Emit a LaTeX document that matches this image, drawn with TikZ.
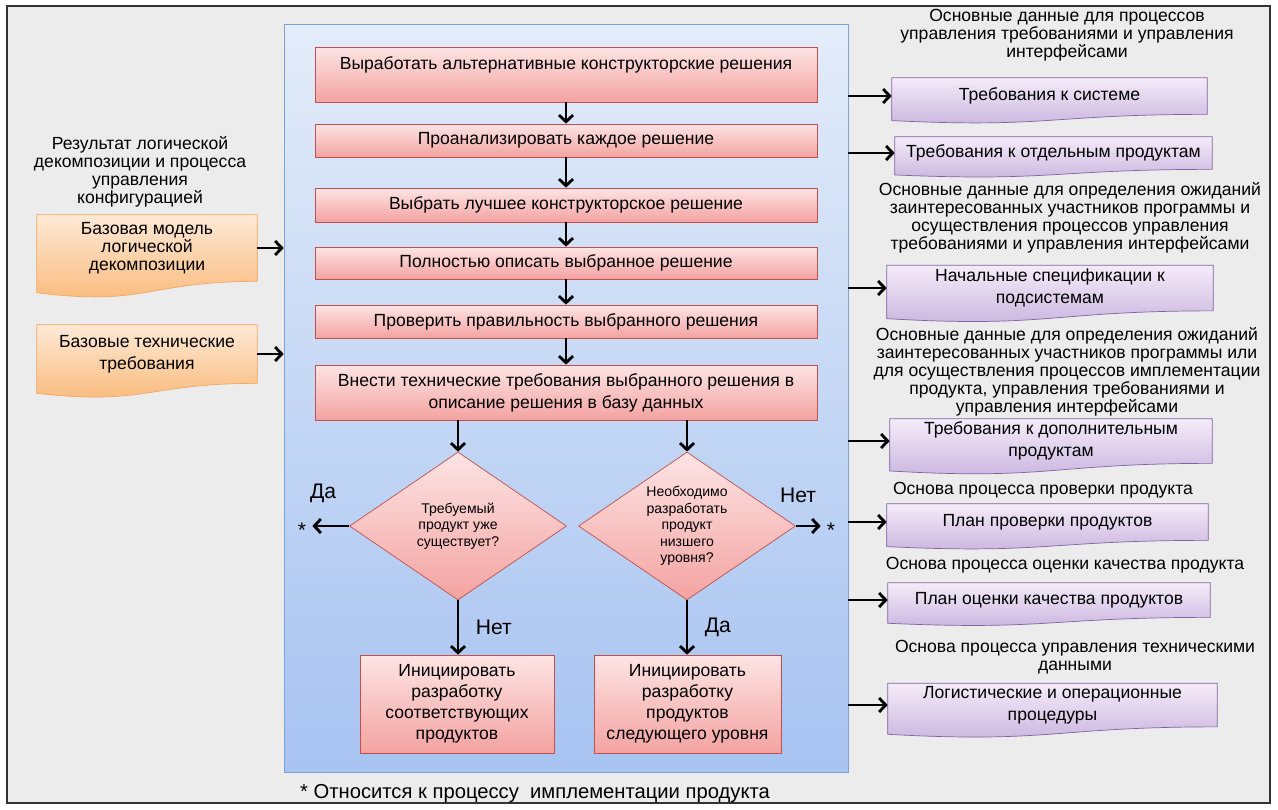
\documentclass[tikz,border=0pt]{standalone}
\usepackage{fontspec}
\setmainfont{Liberation Sans}
\usetikzlibrary{arrows.meta,calc,shapes.geometric}

\definecolor{redline}{HTML}{C0504D}
\definecolor{redtop}{HTML}{FDE4E4}
\definecolor{redbot}{HTML}{F3A3A1}
\definecolor{orgline}{HTML}{F2A766}
\definecolor{orgtop}{HTML}{FEE9D6}
\definecolor{orgbot}{HTML}{F9B877}
\definecolor{violine}{HTML}{8064A2}
\definecolor{viotop}{HTML}{F4ECF9}
\definecolor{viobot}{HTML}{C9B3DE}
\definecolor{bluline}{HTML}{7EA2D6}
\definecolor{blutop}{HTML}{E3ECF9}
\definecolor{blubot}{HTML}{A7C3F1}
\definecolor{paper}{HTML}{ECECEC}

\pgfdeclarelayer{back}
\pgfdeclarelayer{mid}
\pgfsetlayers{back,mid,main}

% wavy document outline under a named node
\newcommand\docpath[2]{%
  \begin{pgfonlayer}{mid}
  \path[#2] (#1.north west) -- (#1.north east) -- (#1.south east)
    .. controls (#1.south) and ($(#1.south)!-0.38!(#1.north)$)
    .. ($(#1.south west)!-0.17!(#1.north west)$) -- cycle;
  \end{pgfonlayer}}

\begin{document}
\begin{tikzpicture}[x=0.02cm,y=-0.02cm,
  every node/.style={font=\fontsize{10}{10.2}\selectfont, align=center},
  redbox/.style={draw=redline, top color=redtop, bottom color=redbot, inner sep=2pt},
  stepbox/.style={redbox, minimum width=10.04cm},
  ask/.style={diamond, aspect=1.47, draw=redline, top color=redtop, bottom color=redbot,
    minimum width=4.34cm, minimum height=2.96cm, inner sep=0pt,
    font=\fontsize{8}{9.4}\selectfont},
  orgdoc/.style={draw=orgline, top color=orgtop, bottom color=orgbot},
  viodoc/.style={draw=violine, top color=viotop, bottom color=viobot},
  yn/.style={font=\fontsize{12}{12}\selectfont},
  arr/.style={line width=1.6pt, -{Straight Barb[length=3.8pt,width=8pt]}}]

\useasboundingbox (0,0) rectangle (1278,809);
\begin{pgfonlayer}{back}
\fill[white] (0,0) rectangle (1278,809);
\filldraw[fill=paper, draw=black!80, line width=1.2pt] (7,6) rectangle (1270,803);
\end{pgfonlayer}

\node[draw=bluline, top color=blutop, bottom color=blubot, minimum width=11.28cm,
  minimum height=14.96cm, inner sep=0pt] (panel) at (566,398) {};

% main chain
\node[stepbox, minimum height=1.1cm, text depth=0.45cm] (s1) at (566,74.5) {Выработать альтернативные конструкторские решения};
\node[stepbox, minimum height=0.66cm] (s2) at (566,140.5) {Проанализировать каждое решение};
\node[stepbox, minimum height=0.68cm] (s3) at (566,205) {Выбрать лучшее конструкторское решение};
\node[stepbox, minimum height=0.64cm] (s4) at (566,263) {Полностью описать выбранное решение};
\node[stepbox, minimum height=0.66cm] (s5) at (566,321.5) {Проверить правильность выбранного решения};
\node[stepbox, minimum height=1.1cm, font=\fontsize{10}{12.5}\selectfont] (s6) at (566,392.5) {Внести технические требования выбранного решения в\\описание решения в базу данных};
\foreach \a/\b in {s1/s2,s2/s3,s3/s4,s4/s5,s5/s6}
  \draw[arr] (\a) -- (\b);

\node[ask] (d1) at (458,526) {Требуемый\\продукт уже\\существует?};
\node[ask] (d2) at (687,526) {Необходимо\\разработать\\продукт\\низшего\\уровня?};
\draw[arr] (s6.south -| d1.north) -- (d1.north);
\draw[arr] (s6.south -| d2.north) -- (d2.north);

\node[yn] (starL) at (302,530) {*};
\node[yn] (starR) at (831,530) {*};
\node[yn] (yesL) at (323,493) {Да};
\node[yn] (noR) at (798,495) {Нет};
\draw[arr] (d1.west) -- (d1.west -| starL.east);
\draw[arr] (d2.east) -- (d2.east -| starR.west);

\node[redbox, minimum width=3.88cm, minimum height=1.96cm, font=\fontsize{10}{12}\selectfont] (b1) at (457,704) {Инициировать\\разработку\\соответствующих\\продуктов};
\node[redbox, minimum width=3.74cm, minimum height=1.96cm, font=\fontsize{10}{12}\selectfont] (b2) at (687.5,704) {Инициировать\\разработку\\продуктов\\следующего уровня};
\draw[arr] (d1.south) -- node[yn, right=6pt] {Нет} (d1.south |- b1.north);
\draw[arr] (d2.south) -- node[yn, right=6pt] {Да} (d2.south |- b2.north);

\node[font=\fontsize{11.5}{12}\selectfont] (foot) at (535,794) {* Относится к процессу\ \ имплементации продукта};

% inputs
\node (lres) at (140,172) {Результат логической\\декомпозиции и процесса\\управления\\конфигурацией};
\node[minimum width=4.4cm, minimum height=1.32cm, inner sep=0pt] (o1) at (147,248) {Базовая модель\\логической\\декомпозиции};
\node[minimum width=4.4cm, minimum height=1.16cm, inner sep=0pt, font=\fontsize{10}{12.5}\selectfont] (o2) at (147,354) {Базовые технические\\требования};
\docpath{o1}{orgdoc}
\docpath{o2}{orgdoc}
\draw[arr] (o1.east) -- (o1.east -| panel.west);
\draw[arr] (o2.east) -- (o2.east -| panel.west);

% outputs
\node (t1) at (1067,35) {Основные данные для процессов\\управления требованиями и управления\\интерфейсами};
\node (t2) at (1070,217.5) {Основные данные для определения ожиданий\\заинтересованных участников программы и\\осуществления процессов управления\\требованиями и управления интерфейсами};
\node (t3) at (1067,372) {Основные данные для определения ожиданий\\заинтересованных участников программы или\\для осуществления процессов имплементации\\продукта, управления требованиями и\\управления интерфейсами};
\node (t4) at (1043,490) {Основа процесса проверки продукта};
\node (t5) at (1065,565) {Основа процесса оценки качества продукта};
\node (t6) at (1075,657) {Основа процесса управления техническими\\данными};

\node[minimum width=6.3cm, minimum height=0.72cm, inner sep=0pt] (p1) at (1049.5,96) {Требования к системе};
\node[minimum width=6.34cm, minimum height=0.64cm, inner sep=0pt] (p2) at (1053.5,153) {Требования к отдельным продуктам};
\node[minimum width=6.52cm, minimum height=0.9cm, inner sep=0pt, font=\fontsize{10}{12.5}\selectfont] (p3) at (1050,288) {Начальные спецификации к\\подсистемам};
\node[minimum width=6.44cm, minimum height=0.88cm, inner sep=0pt, font=\fontsize{10}{12.5}\selectfont] (p4) at (1051,441) {Требования к дополнительным\\продуктам};
\node[minimum width=6.42cm, minimum height=0.72cm, inner sep=0pt] (p5) at (1047.5,522) {План проверки продуктов};
\node[minimum width=6.44cm, minimum height=0.68cm, inner sep=0pt] (p6) at (1049,600) {План оценки качества продуктов};
\node[minimum width=6.58cm, minimum height=0.86cm, inner sep=0pt, font=\fontsize{10}{12.5}\selectfont] (p7) at (1052.5,705) {Логистические и операционные\\процедуры};
\foreach \p in {p1,p2,p3,p4,p5,p6,p7} {
  \docpath{\p}{viodoc}
  \draw[arr] (\p.west -| panel.east) -- (\p.west);
}
\end{tikzpicture}
\end{document}
